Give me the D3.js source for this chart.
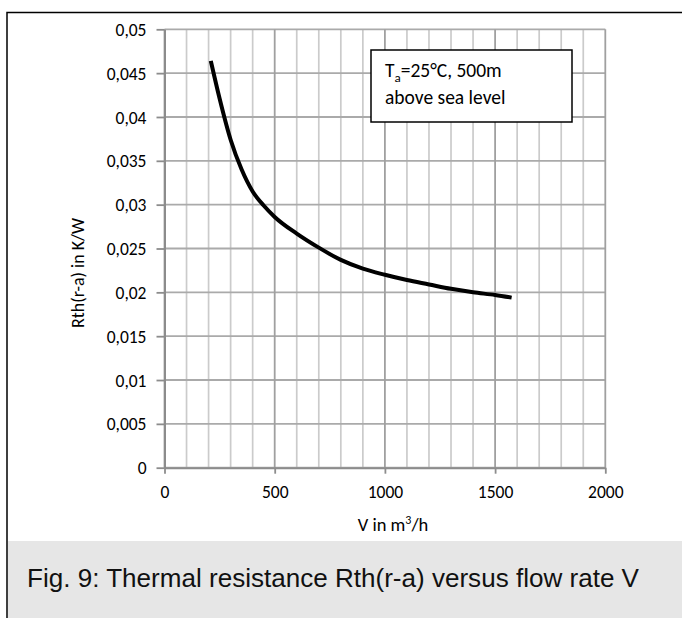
<!DOCTYPE html>
<html>
<head>
<meta charset="utf-8">
<script src="https://cdn.jsdelivr.net/npm/d3@7"></script>
<style>
  html, body { margin: 0; padding: 0; background: #fff; }
  svg { display: block; }
  .lab { font-family: Carlito, Calibri, Lato, sans-serif; fill: #000; }
</style>
</head>
<body>
<svg id="chart" width="682" height="618"></svg>
<script>
// ---- data ----
const flowRate = [210, 250, 300, 350, 400, 450, 500, 600, 700, 800, 900, 1000, 1100, 1200, 1300, 1400, 1500, 1575];
const rth      = [0.0464, 0.0421, 0.0374, 0.0340, 0.0315, 0.0299, 0.0286, 0.0267, 0.0251, 0.0237, 0.0227, 0.0220, 0.0214, 0.0209, 0.0204, 0.0200, 0.0197, 0.0194];
const xMajorTicks = [0, 500, 1000, 1500, 2000];
const xMinorTicks = d3.range(0, 2001, 100);
const yTicks = [0, 0.005, 0.01, 0.015, 0.02, 0.025, 0.03, 0.035, 0.04, 0.045, 0.05];
const yTickLabels = ["0", "0,005", "0,01", "0,015", "0,02", "0,025", "0,03", "0,035", "0,04", "0,045", "0,05"];
const xTickLabels = ["0", "500", "1000", "1500", "2000"];
const xTitle = "V in m";
const yTitle = "Rth(r-a) in K/W";
const captionText = "Fig. 9: Thermal resistance Rth(r-a) versus flow rate V";

// ---- layout ----
const svg = d3.select("#chart");
const L = 164.5, R = 605.3, T = 29.3, B = 467.7;
const x = d3.scaleLinear().domain([0, 2000]).range([L, R]);
const y = d3.scaleLinear().domain([0, 0.05]).range([B, T]);

// frame
svg.append("path").attr("d", "M7,618 L7,12.5 L682,12.5")
  .attr("fill", "none").attr("stroke", "#000").attr("stroke-width", 1.5);
// caption band
svg.append("rect").attr("x", 8).attr("y", 541).attr("width", 674).attr("height", 77).attr("fill", "#e6e6e6");
svg.append("text").attr("x", 27).attr("y", 587)
  .attr("font-family", "'Liberation Sans', Arial, Helvetica, sans-serif")
  .attr("font-size", 26).attr("fill", "#111")
  .attr("textLength", 612).attr("lengthAdjust", "spacingAndGlyphs")
  .text(captionText);

// minor vertical grid
svg.append("g").selectAll("line").data(xMinorTicks.filter(d => d % 500 !== 0)).join("line")
  .attr("x1", d => x(d)).attr("x2", d => x(d)).attr("y1", T).attr("y2", B)
  .attr("stroke", "#cbcbcb").attr("stroke-width", 1.7);
// horizontal grid
svg.append("g").selectAll("line").data(yTicks).join("line")
  .attr("x1", L).attr("x2", R).attr("y1", d => y(d)).attr("y2", d => y(d))
  .attr("stroke", "#aaaaaa").attr("stroke-width", 1.8);
// major vertical grid
svg.append("g").selectAll("line").data(xMajorTicks).join("line")
  .attr("x1", d => x(d)).attr("x2", d => x(d)).attr("y1", T).attr("y2", B)
  .attr("stroke", "#a0a0a0").attr("stroke-width", 1.8);

// axes
const yAxis = d3.axisLeft(y).tickValues(yTicks).tickSize(8).tickSizeOuter(0)
  .tickFormat((d, i) => yTickLabels[i]).tickPadding(10);
const gy = svg.append("g").attr("transform", `translate(${L},0)`).call(yAxis);
gy.select(".domain").attr("stroke", "#8c8c8c").attr("stroke-width", 2);
gy.selectAll(".tick line").attr("stroke", "#8c8c8c").attr("stroke-width", 1.8);
gy.selectAll(".tick text").attr("class", "lab").attr("font-size", 17.5).attr("dy", "0.35em");

const xAxis = d3.axisBottom(x).tickValues(xMajorTicks).tickSize(6).tickSizeOuter(0)
  .tickFormat((d, i) => xTickLabels[i]).tickPadding(12);
const gx = svg.append("g").attr("transform", `translate(0,${B})`).call(xAxis);
gx.select(".domain").attr("stroke", "#8c8c8c").attr("stroke-width", 2);
gx.selectAll(".tick line").attr("stroke", "#8c8c8c").attr("stroke-width", 1.8);
gx.selectAll(".tick text").attr("class", "lab").attr("font-size", 17.5);

// curve
const pts = flowRate.map((v, i) => [v, rth[i]]);
svg.append("path").datum(pts)
  .attr("d", d3.line().x(d => x(d[0])).y(d => y(d[1])).curve(d3.curveMonotoneX))
  .attr("fill", "none").attr("stroke", "#000").attr("stroke-width", 4).attr("stroke-linecap", "butt");

// legend box
svg.append("rect").attr("x", 371).attr("y", 50).attr("width", 201).attr("height", 72)
  .attr("fill", "#fff").attr("stroke", "#000").attr("stroke-width", 1.5);
const t1 = svg.append("text").attr("class", "lab").attr("x", 385).attr("y", 77).attr("font-size", 19.5);
t1.append("tspan").text("T");
t1.append("tspan").attr("font-size", 13).attr("dy", 5).text("a");
t1.append("tspan").attr("dy", -5).text("=25°C, 500m");
svg.append("text").attr("class", "lab").attr("x", 385).attr("y", 104).attr("font-size", 19.5).text("above sea level");

// axis titles
const xt = svg.append("text").attr("class", "lab").attr("x", 393).attr("y", 531).attr("text-anchor", "middle").attr("font-size", 18.5);
xt.append("tspan").text(xTitle);
xt.append("tspan").attr("font-size", 12).attr("dy", -7).text("3");
xt.append("tspan").attr("dy", 7).text("/h");

svg.append("text").attr("class", "lab").attr("transform", "translate(84,273) rotate(-90)")
  .attr("text-anchor", "middle").attr("font-size", 18).text(yTitle);
</script>
</body>
</html>
